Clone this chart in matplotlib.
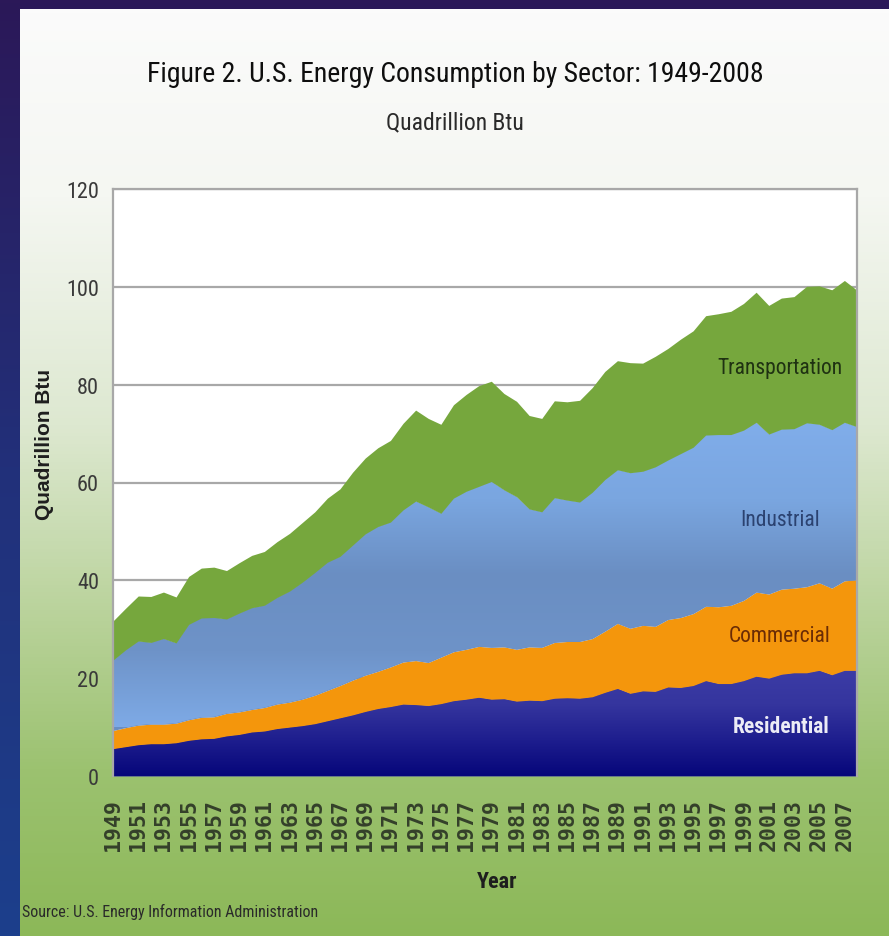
import matplotlib
matplotlib.use("Agg")
import matplotlib.pyplot as plt
import numpy as np
from matplotlib import font_manager
from matplotlib.colors import LinearSegmentedColormap

# U.S. energy consumption by sector, quadrillion Btu
years = np.arange(1949, 2009)

residential = [5.6, 6.0, 6.4, 6.6, 6.6, 6.8, 7.3, 7.6, 7.7, 8.2,
               8.5, 9.0, 9.2, 9.7, 10.0, 10.3, 10.7, 11.3, 11.9, 12.5,
               13.2, 13.8, 14.2, 14.7, 14.6, 14.4, 14.8, 15.4, 15.7, 16.1,
               15.7, 15.8, 15.3, 15.5, 15.4, 15.9, 16.0, 15.9, 16.2, 17.1,
               17.9, 16.9, 17.4, 17.3, 18.2, 18.1, 18.5, 19.5, 18.9, 18.9,
               19.5, 20.4, 20.0, 20.8, 21.1, 21.1, 21.6, 20.7, 21.6, 21.6]
commercial = [3.7, 3.9, 4.0, 4.0, 4.0, 4.0, 4.2, 4.4, 4.4, 4.6,
              4.6, 4.6, 4.8, 5.0, 5.1, 5.4, 5.8, 6.2, 6.6, 7.1,
              7.4, 7.6, 8.1, 8.6, 9.0, 8.8, 9.5, 10.0, 10.2, 10.4,
              10.6, 10.6, 10.6, 10.9, 10.9, 11.4, 11.5, 11.6, 11.9, 12.5,
              13.3, 13.3, 13.4, 13.3, 13.8, 14.3, 14.7, 15.2, 15.7, 16.0,
              16.4, 17.2, 17.2, 17.4, 17.3, 17.6, 17.9, 17.7, 18.3, 18.5]
industrial = [14.4, 15.9, 17.2, 16.7, 17.5, 16.4, 19.5, 20.3, 20.3, 19.3,
              20.2, 20.8, 20.9, 21.8, 22.7, 23.9, 25.1, 26.2, 26.4, 27.6,
              28.9, 29.6, 29.6, 31.1, 32.6, 31.8, 29.4, 31.4, 32.3, 32.7,
              33.9, 32.1, 31.2, 28.2, 27.7, 29.6, 28.9, 28.5, 29.9, 31.0,
              31.4, 31.8, 31.5, 32.6, 32.6, 33.5, 34.0, 35.0, 35.2, 34.9,
              34.8, 34.7, 32.7, 32.7, 32.6, 33.5, 32.4, 32.4, 32.4, 31.3]
transportation = [8.0, 8.5, 9.2, 9.4, 9.5, 9.4, 9.8, 10.2, 10.3, 9.9,
                  10.3, 10.7, 11.0, 11.4, 11.8, 12.2, 12.4, 13.1, 13.8, 14.9,
                  15.5, 16.1, 16.7, 17.7, 18.6, 18.1, 18.2, 19.1, 19.8, 20.6,
                  20.5, 19.7, 19.5, 19.1, 19.1, 19.8, 20.1, 20.8, 21.4, 22.1,
                  22.3, 22.5, 22.1, 22.6, 22.8, 23.4, 23.8, 24.4, 24.7, 25.2,
                  25.9, 26.6, 26.3, 26.8, 27.0, 27.9, 28.3, 28.6, 29.0, 27.9]

sectors = ["Residential", "Commercial", "Industrial", "Transportation"]
y_ticks = [0, 20, 40, 60, 80, 100, 120]
x_ticks = list(range(1949, 2008, 2))


def pick_font(names):
    have = {f.name for f in font_manager.fontManager.ttflist}
    for n in names:
        if n in have:
            return n
    return "DejaVu Sans"


NARROW = pick_font(["Liberation Sans Narrow", "Roboto Condensed", "Open Sans Condensed", "Liberation Sans"])
plt.rcParams["font.family"] = [NARROW, "DejaVu Sans"]

W, H = 889, 937
fig = plt.figure(figsize=(W / 100, H / 100), dpi=100)

# slide background
bg = fig.add_axes([0, 0, 1, 1])
bg.axis("off")
slide = LinearSegmentedColormap.from_list("slide", ["#2b1858", "#22307a", "#1c3f8c"])
bg.imshow(np.linspace(0, 1, 256).reshape(-1, 1), cmap=slide, aspect="auto",
          extent=[0, 1, 0, 1], origin="upper")

# white-to-green panel
panel = fig.add_axes([20 / W, 0, 1 - 20 / W, 1 - 10 / H])
panel.axis("off")
pan = LinearSegmentedColormap.from_list(
    "pan", [(0, "#fbfbfb"), (0.2, "#f5f7f2"), (0.45, "#dde8d0"),
            (0.65, "#bad39c"), (0.82, "#9cc270"), (1, "#8cb858")])
panel.imshow(np.linspace(0, 1, 256).reshape(-1, 1), cmap=pan, aspect="auto",
             extent=[0, 1, 0, 1], origin="upper")

ax = fig.add_axes([113 / W, 1 - 777 / H, (857 - 113) / W, (777 - 190) / H])
ax.set_facecolor("white")

r = np.array(residential)
c = r + np.array(commercial)
i = c + np.array(industrial)
t = i + np.array(transportation)


def grad_fill(lo, hi, colors, vmin, vmax):
    poly = ax.fill_between(years, lo, hi, color=colors[len(colors) // 2], lw=0, zorder=2)
    cm = LinearSegmentedColormap.from_list("g", colors)
    im = ax.imshow(np.linspace(0, 1, 256).reshape(-1, 1), cmap=cm, aspect="auto",
                   extent=[years[0], years[-1], vmin, vmax], origin="lower", zorder=2)
    im.set_clip_path(poly.get_paths()[0], transform=ax.transData)


grad_fill(0, r, ["#06067a", "#1e1e8e", "#35359e", "#3c3ca6"], 0, 22)
ax.fill_between(years, r, c, color="#f4960c", lw=0, zorder=2)
grad_fill(c, i, ["#7eaae6", "#6e93c8", "#6a8ec2", "#7aa6e0", "#80adea"], 10, 72)
ax.fill_between(years, i, t, color="#76a73d", lw=0, zorder=2)

ax.set_xlim(years[0], years[-1])
ax.set_ylim(0, 120)
ax.set_yticks(y_ticks)
ax.set_yticklabels([str(v) for v in y_ticks], fontsize=16, color="#3a3a3a")
ax.set_xticks(x_ticks)
ax.set_xticklabels([str(v) for v in x_ticks], rotation=90, fontsize=15.5,
                   family="DejaVu Sans Mono", fontweight="bold", color="#34402a")
ax.tick_params(axis="y", length=0, pad=10)
ax.tick_params(axis="x", length=0, pad=16)
ax.yaxis.grid(True, color="#a8a8a8", lw=1.6, zorder=1)
ax.set_axisbelow(True)
for s in ["left", "top", "right"]:
    ax.spines[s].set_color("#a8a8a8")
    ax.spines[s].set_linewidth(1.6)
ax.spines["bottom"].set_visible(False)

# sector labels inside the areas
ax.text(2001.9, 83.5, "Transportation", fontsize=15.5, color="#1f3212", ha="center", va="center", zorder=3)
ax.text(2001.9, 52.5, "Industrial", fontsize=15.5, color="#2b4270", ha="center", va="center", zorder=3)
ax.text(2001.9, 28.7, "Commercial", fontsize=15.5, color="#6a2c05", ha="center", va="center", zorder=3)
ax.text(2002.0, 10.3, "Residential", fontsize=15.5, color="#ececf6", fontweight="bold",
        ha="center", va="center", zorder=3)

fig.text(455 / W, 1 - 75 / H, "Figure 2. U.S. Energy Consumption by Sector: 1949-2008",
         fontsize=20, ha="center", va="center", color="#0e0e0e")
fig.text(455 / W, 1 - 123 / H, "Quadrillion Btu", fontsize=17, ha="center", va="center",
         color="#2a2a2a")
fig.text(45 / W, 1 - 444 / H, "Quadrillion Btu", fontsize=15, fontweight="bold",
         family="Liberation Sans", rotation=90, ha="center", va="center", color="#1e1e1e")
fig.text(497 / W, 1 - 882 / H, "Year", fontsize=16, fontweight="bold", ha="center",
         va="center", color="#1e1e1e")
fig.text(22 / W, 1 - 912 / H, "Source: U.S. Energy Information Administration",
         fontsize=11.5, ha="left", va="center", color="#2a2a2a")

fig.savefig("out.png", dpi=100)
